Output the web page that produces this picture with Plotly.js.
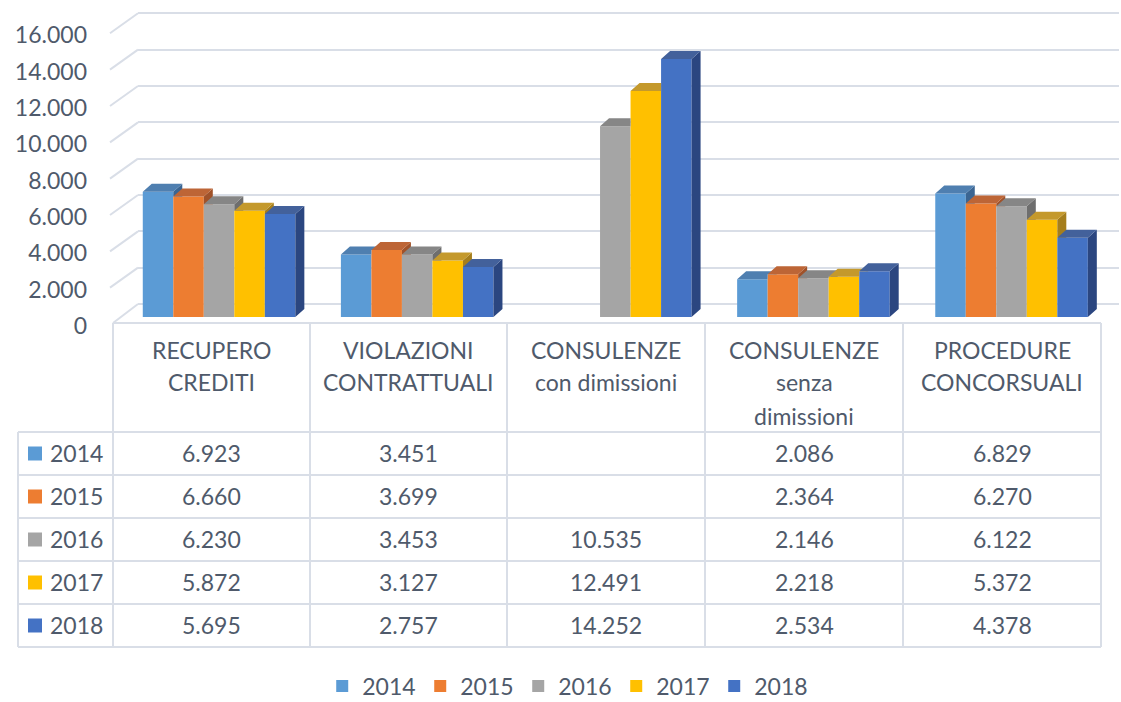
<!DOCTYPE html>
<html><head><meta charset="utf-8">
<script src="https://cdn.plot.ly/plotly-3.0.1.min.js"></script>
<style>html,body{margin:0;padding:0;background:#fff;} #chart{width:1121px;height:702px;}</style>
</head><body><div id="chart"></div>
<script>
// ---- data ----
const categories = ['RECUPERO<br>CREDITI','VIOLAZIONI<br>CONTRATTUALI','CONSULENZE<br>con dimissioni','CONSULENZE<br>senza<br>dimissioni','PROCEDURE<br>CONCORSUALI'];
const years = ['2014','2015','2016','2017','2018'];
const v2014 = [6923, 3451, null, 2086, 6829];
const v2015 = [6660, 3699, null, 2364, 6270];
const v2016 = [6230, 3453, 10535, 2146, 6122];
const v2017 = [5872, 3127, 12491, 2218, 5372];
const v2018 = [5695, 2757, 14252, 2534, 4378];
const yTicks = [0, 2000, 4000, 6000, 8000, 10000, 12000, 14000, 16000];

const series = [v2014, v2015, v2016, v2017, v2018];
const colors = ['#5b9bd5', '#ed7d31', '#a5a5a5', '#ffc000', '#4472c4'];
const topColors = ['#4f7fb0', '#bd6536', '#868686', '#c4992c', '#43619b'];
const sideColors = ['#3b6592', '#a0522a', '#6e6e6e', '#a57e1c', '#2b4680'];
const txt = '#4f5a6b';
const lineCol = '#d9dee7';
const FONT = 'Lato, "Open Sans", sans-serif';

// ---- geometry (pixels) ----
const W = 1121, H = 702;
const fx = p => p / W;
const fy = p => 1 - p / H;

// back wall (grid) plane
const b0 = 304, b16 = 13.3;
const sb = (b0 - b16) / 16000;
const backY = v => b0 - v * sb;
// bar plane
const p0 = 317, p16 = 27.4;
const xL = 120, xR = 1110.6;
const g = 0.23, bw = (1 - g) / 5;
const dxU = 9 / ((xR - xL) / 5);
const dyU = 8 * 16000 / (p0 - p16);

// table
const colX = [113, 310, 507, 705, 903, 1101];
const rowY = [432, 475, 518, 561, 604, 647];
const tableTop = 323;
const textDrop = -0.5;

function fmt(v) { return v == null ? '' : String(v).replace(/\B(?=(\d{3})+(?!\d))/g, '.'); }

// half-plane clip: keep f(p) >= 0
function clip(poly, f) {
  const out = [];
  for (let i = 0; i < poly.length; i++) {
    const p = poly[i], q = poly[(i + 1) % poly.length];
    const fp = f(p), fq = f(q);
    if (fp >= 0) out.push(p);
    if ((fp >= 0) !== (fq >= 0)) {
      const t = fp / (fp - fq);
      out.push([p[0] + (q[0] - p[0]) * t, p[1] + (q[1] - p[1]) * t]);
    }
  }
  return out;
}
function pushPoly(arrX, arrY, poly) {
  if (poly.length < 3) return;
  poly.forEach(pt => { arrX.push(pt[0]); arrY.push(pt[1]); });
  arrX.push(poly[0][0]); arrY.push(poly[0][1]);
  arrX.push(null); arrY.push(null);
}

const traces = [];
// invisible anchor trace so the back-wall axis (grid + tick labels) is drawn
traces.push({ type: 'scatter', mode: 'markers', x: [null], y: [null], xaxis: 'x', yaxis: 'y',
  marker: { opacity: 0 }, hoverinfo: 'skip', showlegend: false });
const xIdx = categories.map((c, i) => i);
series.forEach((vals, k) => {
  traces.push({
    type: 'bar', x: xIdx, y: vals, name: years[k], xaxis: 'x2', yaxis: 'y2',
    marker: { color: colors[k], line: { width: 0 } },
    hovertemplate: '%{y}<extra>' + years[k] + '</extra>'
  });
});
series.forEach((vals, k) => {
  const tx = [], ty = [], sx = [], sy = [];
  vals.forEach((v, c) => {
    if (v == null) return;
    const xl = c - (1 - g) / 2 + k * bw, xr = xl + bw;
    const top = [[xl, v], [xl + dxU, v + dyU], [xr + dxU, v + dyU], [xr, v]];
    const side = [[xr, 0], [xr + dxU, dyU], [xr + dxU, v + dyU], [xr, v]];
    if (k < series.length - 1) {
      const vn = series[k + 1][c] == null ? 0 : series[k + 1][c];
      pushPoly(tx, ty, clip(top, p => xr - p[0]));
      pushPoly(tx, ty, clip(clip(top, p => p[0] - xr), p => p[1] - vn));
      pushPoly(sx, sy, clip(side, p => p[1] - vn));
    } else {
      pushPoly(tx, ty, top);
      pushPoly(sx, sy, side);
    }
  });
  traces.push({ type: 'scatter', mode: 'lines', x: sx, y: sy, xaxis: 'x2', yaxis: 'y2', fill: 'toself',
    fillcolor: sideColors[k], line: { width: 0, color: sideColors[k] }, hoverinfo: 'skip', showlegend: false });
  traces.push({ type: 'scatter', mode: 'lines', x: tx, y: ty, xaxis: 'x2', yaxis: 'y2', fill: 'toself',
    fillcolor: topColors[k], line: { width: 0, color: topColors[k] }, hoverinfo: 'skip', showlegend: false });
});

// ---- shapes: left wall, table grid, legend keys in table ----
const shapes = [];
const ln = (x0, y0, x1, y1) => shapes.push({ type: 'line', xref: 'paper', yref: 'paper', layer: 'below',
  x0: fx(x0), y0: fy(y0), x1: fx(x1), y1: fy(y1), line: { color: lineCol, width: 2 } });
yTicks.forEach(v => {
  const by = backY(v);
  if (v === 0) ln(113, tableTop, 138, by);
  else ln(110, by + 20, 138, by);
});
ln(colX[0], tableTop, colX[5], tableTop);
rowY.forEach(y => ln(18, y, colX[5], y));
colX.forEach(x => ln(x, tableTop, x, rowY[rowY.length - 1]));
ln(18, rowY[0], 18, rowY[rowY.length - 1]);

const annotations = [];
categories.forEach((cat, c) => {
  const cx = (colX[c] + colX[c + 1]) / 2;
  cat.split('<br>').forEach((line, i) => {
    annotations.push({ xref: 'paper', yref: 'paper', x: fx(cx), y: fy(349.5 + i * 33), xanchor: 'center', yanchor: 'middle',
      text: line, showarrow: false, font: { family: FONT, size: 23, color: txt } });
  });
});
series.forEach((vals, k) => {
  const cy = (rowY[k] + rowY[k + 1]) / 2;
  shapes.push({ type: 'rect', xref: 'paper', yref: 'paper', x0: fx(28), x1: fx(42), y0: fy(cy - 7), y1: fy(cy + 7),
    fillcolor: colors[k], line: { width: 0 } });
  annotations.push({ xref: 'paper', yref: 'paper', x: fx(48), y: fy(cy + textDrop), xanchor: 'left', yanchor: 'middle',
    text: years[k], showarrow: false, font: { family: FONT, size: 23, color: txt } });
  vals.forEach((v, c) => {
    if (v == null) return;
    const cx = (colX[c] + colX[c + 1]) / 2;
    annotations.push({ xref: 'paper', yref: 'paper', x: fx(cx), y: fy(cy + textDrop), xanchor: 'center', yanchor: 'middle',
      text: fmt(v), showarrow: false, font: { family: FONT, size: 23, color: txt } });
  });
});

const layout = {
  width: W, height: H, autosize: false,
  margin: { l: 0, r: 0, t: 0, b: 0, pad: 0, autoexpand: false },
  paper_bgcolor: '#ffffff', plot_bgcolor: 'rgba(0,0,0,0)',
  separators: ',.',
  barmode: 'group', bargap: g, bargroupgap: 0,
  font: { family: FONT, color: txt },
  xaxis: { domain: [fx(138), fx(1119)], range: [0, 1], showgrid: false, zeroline: false, showticklabels: false,
    showline: false, ticks: '', fixedrange: true },
  yaxis: { domain: [fy(backY(-100)), fy(backY(16100))], range: [-100, 16100], tickvals: yTicks, tickformat: ',d',
    showgrid: true, gridcolor: lineCol, gridwidth: 2, zeroline: false, showline: false, ticks: '',
    tickfont: { family: FONT, size: 23, color: txt }, ticklabelstandoff: 50, ticklabelshift: 22, fixedrange: true },
  xaxis2: { domain: [fx(xL), fx(xR)], range: [-0.5, 4.5], anchor: 'y2', visible: false, fixedrange: true },
  yaxis2: { domain: [fy(p0), fy(p16)], range: [0, 16000], anchor: 'x2', visible: false, fixedrange: true },
  showlegend: true,
  legend: { orientation: 'h', x: 0.506, xanchor: 'center', y: -0.008, yanchor: 'bottom',
    font: { family: FONT, size: 23, color: txt }, entrywidth: 53, itemwidth: 30, traceorder: 'normal',
    bgcolor: 'rgba(0,0,0,0)' },
  shapes: shapes,
  annotations: annotations
};

Plotly.newPlot('chart', traces, layout, { displayModeBar: false, staticPlot: true });
</script>
</body></html>
